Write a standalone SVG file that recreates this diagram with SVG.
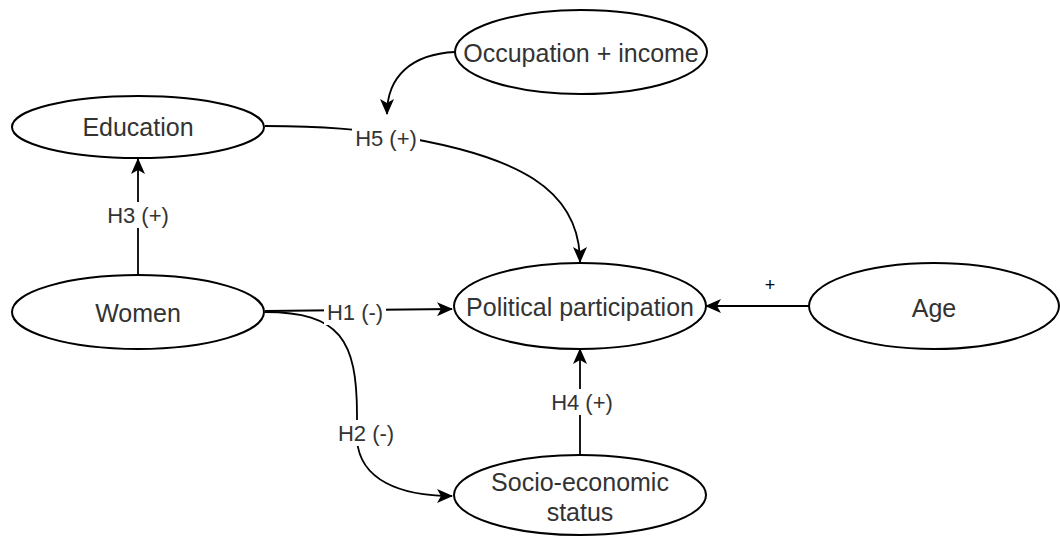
<svg xmlns="http://www.w3.org/2000/svg" width="1060" height="538" viewBox="0 0 1060 538">
<style>
.node ellipse{fill:#fff;stroke:#000;stroke-width:2}
.node text{font-family:"Liberation Sans",Arial,sans-serif;font-size:25px;fill:#333;text-anchor:middle;dominant-baseline:central}
.edge{fill:none;stroke:#000;stroke-width:1.8}
.lbl rect{fill:#fff}
.lbl text{font-family:"Liberation Sans",Arial,sans-serif;font-size:22px;fill:#333;text-anchor:middle;dominant-baseline:central}
</style>
<defs>
<marker id="arr" markerUnits="userSpaceOnUse" markerWidth="16" markerHeight="14" refX="15" refY="7" orient="auto">
<path d="M0,0 L16,7 L0,14 L4,7 z" fill="#000"/>
</marker>
</defs>
<rect width="1060" height="538" fill="#fff"/>
<g id="connectors">
<path class="edge" d="M138,274 L138,159" marker-end="url(#arr)"/>
<path class="edge" d="M265,126 C330,126 360,130 390,135 C520,155 580,190 580,262" marker-end="url(#arr)"/>
<path class="edge" d="M455,52 C412,54 387,76 387,114" marker-end="url(#arr)"/>
<path class="edge" d="M265,311 L452,309" marker-end="url(#arr)"/>
<path class="edge" d="M265,312 C340,312 357,340 357,415 L357,440 C360,480 400,496 452,496" marker-end="url(#arr)"/>
<path class="edge" d="M580,454 L580,349" marker-end="url(#arr)"/>
<path class="edge" d="M809,306 L706,306" marker-end="url(#arr)"/>
<g class="lbl">
<rect x="103" y="202" width="70" height="26"/><text x="138" y="215">H3 (+)</text>
<rect x="352" y="125" width="68" height="26"/><text x="386" y="138">H5 (+)</text>
<rect x="324" y="299" width="62" height="26"/><text x="355" y="312">H1 (-)</text>
<rect x="334" y="420" width="64" height="26"/><text x="366" y="433">H2 (-)</text>
<rect x="547" y="389" width="70" height="26"/><text x="582" y="402">H4 (+)</text>
<text x="770" y="285" style="font-size:18px;fill:#000">+</text>
</g>
</g>
<g id="occupation" class="node"><ellipse cx="581" cy="52" rx="126" ry="42"/><text x="581" y="53">Occupation + income</text></g>
<g id="education" class="node"><ellipse cx="138" cy="127" rx="126" ry="31"/><text x="138" y="127">Education</text></g>
<g id="women" class="node"><ellipse cx="138" cy="312" rx="126" ry="37"/><text x="138" y="313">Women</text></g>
<g id="political" class="node"><ellipse cx="580" cy="306" rx="126" ry="43"/><text x="580" y="307">Political participation</text></g>
<g id="age" class="node"><ellipse cx="934" cy="306" rx="125" ry="43"/><text x="934" y="308">Age</text></g>
<g id="ses" class="node"><ellipse cx="580" cy="495" rx="126" ry="40"/><text x="580" y="482">Socio-economic</text><text x="580" y="512">status</text></g>
</svg>
